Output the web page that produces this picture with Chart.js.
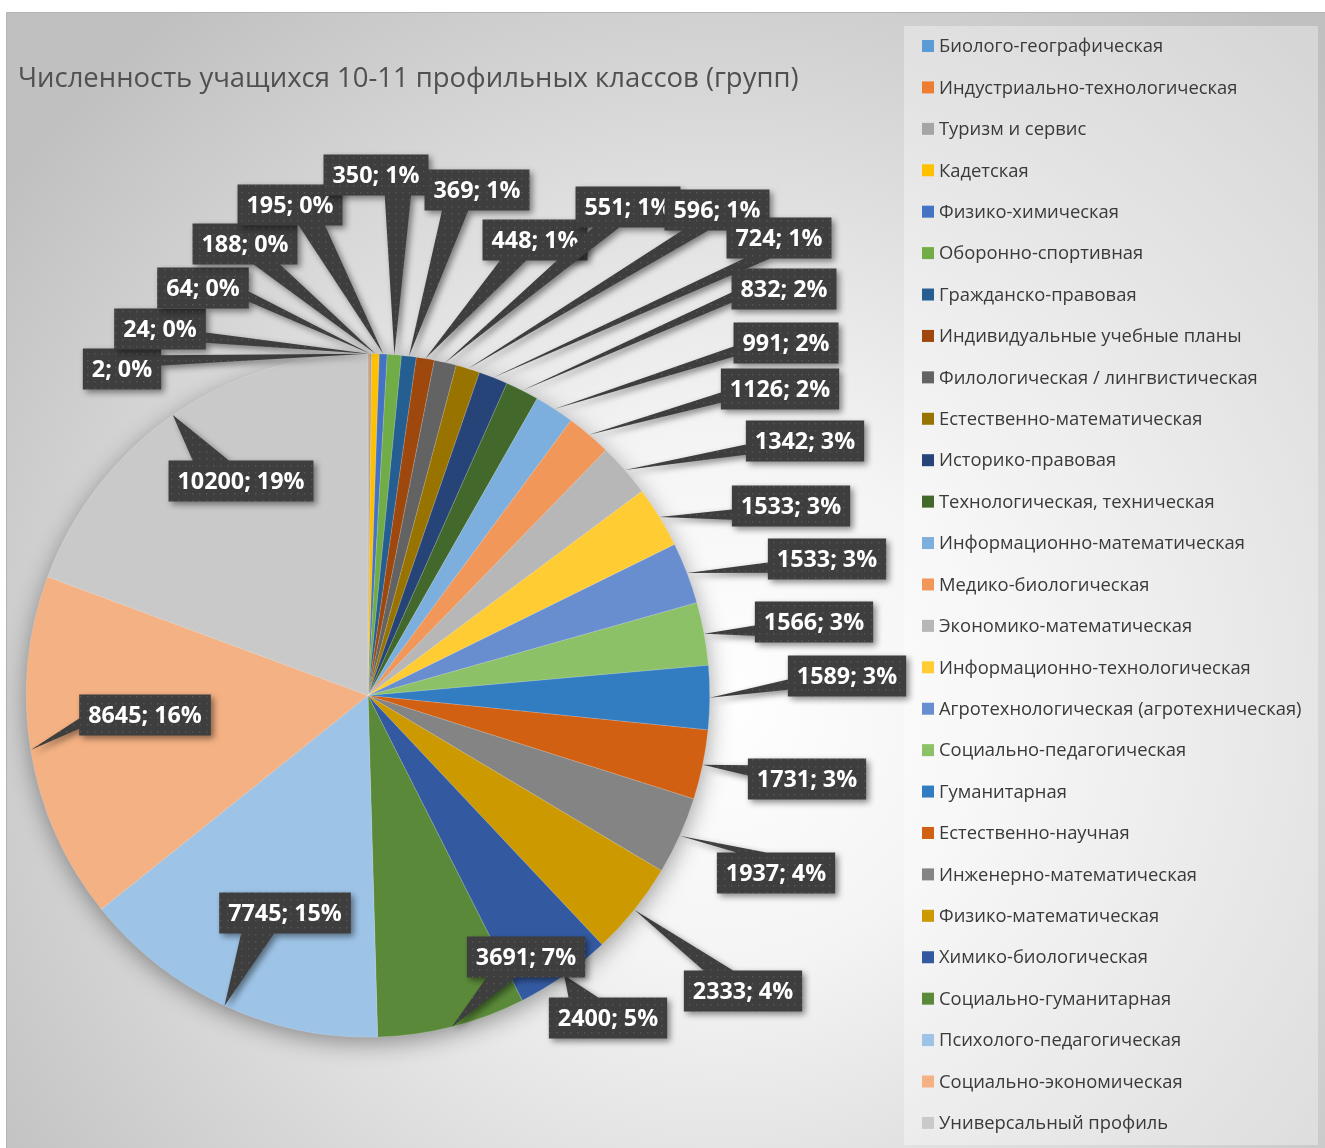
<!DOCTYPE html>
<html lang="ru">
<head>
<meta charset="UTF-8">
<title>Численность учащихся 10-11 профильных классов</title>
<script src="https://cdn.jsdelivr.net/npm/chart.js@4.4.0/dist/chart.umd.min.js"></script>
<style>
  html, body { margin: 0; padding: 0; background: #ffffff; }
  canvas { display: block; }
</style>
</head>
<body>
<canvas id="pie" width="1325" height="1148"></canvas>
<script>
// profiles, in legend order (slices go clockwise from 12 o'clock)
const profiles = [
  'Биолого-географическая', 'Индустриально-технологическая', 'Туризм и сервис',
  'Кадетская', 'Физико-химическая', 'Оборонно-спортивная', 'Гражданско-правовая',
  'Индивидуальные учебные планы', 'Филологическая / лингвистическая',
  'Естественно-математическая', 'Историко-правовая', 'Технологическая, техническая',
  'Информационно-математическая', 'Медико-биологическая', 'Экономико-математическая',
  'Информационно-технологическая', 'Агротехнологическая (агротехническая)',
  'Социально-педагогическая', 'Гуманитарная', 'Естественно-научная',
  'Инженерно-математическая', 'Физико-математическая', 'Химико-биологическая',
  'Социально-гуманитарная', 'Психолого-педагогическая', 'Социально-экономическая',
  'Универсальный профиль'
];
const students = [2, 24, 64, 188, 195, 350, 369, 448, 551, 596, 724, 832, 991, 1126,
  1342, 1533, 1533, 1566, 1589, 1731, 1937, 2333, 2400, 3691, 7745, 8645, 10200];

const sliceColors = [
  '#5B9BD5', '#ED7D31', '#A5A5A5', '#FFC000', '#4472C4', '#70AD47',
  '#255E91', '#9E480E', '#636363', '#997300', '#264478', '#43682B',
  '#7CAFDD', '#F1975A', '#B7B7B7', '#FFCD33', '#698ED0', '#8CC168',
  '#327DC2', '#D26012', '#848484', '#CC9A00', '#335AA1', '#5A8A39',
  '#9DC3E6', '#F4B183', '#C9C9C9'
];

// where each data callout box sits (box centre, px)
const calloutCenters = [
  [122, 369], [160, 329], [203, 288], [245, 244], [290, 205], [376, 175], [477, 190],
  [535, 240], [628, 207], [717, 210], [779, 238], [784, 289], [786, 343], [780, 389],
  [805, 441], [791, 506], [827, 559], [814, 622], [847, 676], [807, 779], [776, 873],
  [743, 991], [608, 1018], [526, 957], [285, 913], [145, 715], [241, 481]
];

const titleText = 'Численность учащихся 10-11 профильных классов (групп)';
const FONT = '"Open Sans", "Noto Sans", sans-serif';

function fitSize(ctx, text, target, weight) {
  ctx.font = weight + ' 100px ' + FONT;
  return 100 * target / ctx.measureText(text).width;
}

// dotted fill used by the callouts
const patCanvas = document.createElement('canvas');
patCanvas.width = 7; patCanvas.height = 7;
(function () {
  const p = patCanvas.getContext('2d');
  p.fillStyle = '#3e3e3e';
  p.fillRect(0, 0, 7, 7);
  p.fillStyle = '#555555';
  p.fillRect(3, 3, 1.5, 1.5);
})();

function calloutPath(ctx, l, t, w, h, tx, ty) {
  const dx = tx - (l + w / 2), dy = ty - (t + h / 2);
  const dz = Math.abs(dy) - Math.abs(dx * h / w);
  const xl = l + w * (dx > 0 ? 7 : 2) / 12, xr = l + w * (dx > 0 ? 10 : 5) / 12;
  const yt = t + h * (dy > 0 ? 7 : 2) / 12, yb = t + h * (dy > 0 ? 10 : 5) / 12;
  ctx.beginPath();
  ctx.moveTo(l, t);
  if (dz > 0 && dy < 0) { ctx.lineTo(xl, t); ctx.lineTo(tx, ty); ctx.lineTo(xr, t); }
  ctx.lineTo(l + w, t);
  if (dz <= 0 && dx > 0) { ctx.lineTo(l + w, yt); ctx.lineTo(tx, ty); ctx.lineTo(l + w, yb); }
  ctx.lineTo(l + w, t + h);
  if (dz > 0 && dy > 0) { ctx.lineTo(xr, t + h); ctx.lineTo(tx, ty); ctx.lineTo(xl, t + h); }
  ctx.lineTo(l, t + h);
  if (dz <= 0 && dx < 0) { ctx.lineTo(l, yb); ctx.lineTo(tx, ty); ctx.lineTo(l, yt); }
  ctx.closePath();
}

const decor = {
  id: 'decor',
  beforeDraw(chart) {
    const ctx = chart.ctx;
    ctx.save();
    ctx.fillStyle = '#ffffff';
    ctx.fillRect(0, 0, chart.width, chart.height);
    const g = ctx.createRadialGradient(720, 700, 0, 720, 700, 880);
    g.addColorStop(0, '#ffffff');
    g.addColorStop(0.3, '#f4f4f4');
    g.addColorStop(1, '#c0c0c0');
    ctx.fillStyle = g;
    ctx.fillRect(6, 12, chart.width - 6, chart.height - 12);
    ctx.strokeStyle = '#b4b4b4';
    ctx.lineWidth = 1;
    ctx.beginPath();
    ctx.moveTo(6.5, chart.height); ctx.lineTo(6.5, 12.5); ctx.lineTo(chart.width, 12.5);
    ctx.stroke();
    // legend panel
    ctx.fillStyle = 'rgba(255,255,255,0.35)';
    ctx.fillRect(904, 26, 414, 1119);
    ctx.restore();
  },
  beforeDatasetsDraw(chart) {
    const arc = chart.getDatasetMeta(0).data[0];
    if (!arc) return;
    const ctx = chart.ctx;
    ctx.save();
    ctx.shadowColor = 'rgba(0,0,0,0.4)';
    ctx.shadowBlur = 24;
    ctx.shadowOffsetY = 6;
    ctx.fillStyle = '#c9c9c9';
    ctx.beginPath();
    ctx.arc(arc.x, arc.y, arc.outerRadius - 1, 0, Math.PI * 2);
    ctx.fill();
    ctx.restore();
  },
  afterDatasetsDraw(chart) {
    const ctx = chart.ctx;
    const meta = chart.getDatasetMeta(0);
    const total = students.reduce((a, b) => a + b, 0);
    const size = fitSize(ctx, '10200; 19%', 127, 'bold');
    const pattern = ctx.createPattern(patCanvas, 'repeat');
    ctx.save();
    meta.data.forEach((arc, i) => {
      const mid = (arc.startAngle + arc.endAngle) / 2;
      const tx = arc.x + Math.cos(mid) * arc.outerRadius;
      const ty = arc.y + Math.sin(mid) * arc.outerRadius;
      const text = students[i] + '; ' + Math.round(students[i] / total * 100) + '%';
      ctx.font = 'bold ' + size + 'px ' + FONT;
      const w = ctx.measureText(text).width + 18, h = 41;
      const [cx, cy] = calloutCenters[i];
      const l = cx - w / 2, t = cy - h / 2;
      calloutPath(ctx, l, t, w, h, tx, ty);
      ctx.shadowColor = 'rgba(0,0,0,0.45)';
      ctx.shadowBlur = 6;
      ctx.shadowOffsetX = 3;
      ctx.shadowOffsetY = 3;
      ctx.fillStyle = pattern;
      ctx.fill();
      ctx.shadowColor = 'transparent';
      ctx.fillStyle = '#ffffff';
      ctx.textAlign = 'center';
      ctx.textBaseline = 'middle';
      ctx.fillText(text, cx, cy + 1);
    });
    ctx.restore();
  },
  afterDraw(chart) {
    const ctx = chart.ctx;
    ctx.save();
    // title
    const ts = fitSize(ctx, titleText, 781, 'normal');
    ctx.font = 'normal ' + ts + 'px ' + FONT;
    ctx.fillStyle = '#505050';
    ctx.textAlign = 'left';
    ctx.textBaseline = 'middle';
    ctx.fillText(titleText, 18, 79);
    // legend
    const ls = fitSize(ctx, 'Агротехнологическая (агротехническая)', 363, 'normal');
    ctx.font = 'normal ' + ls + 'px ' + FONT;
    profiles.forEach((name, i) => {
      const y = 46 + i * 41.42;
      ctx.fillStyle = sliceColors[i];
      ctx.fillRect(922, y - 6, 12, 12);
      ctx.fillStyle = '#3a3a3a';
      ctx.fillText(name, 939, y + 1);
    });
    ctx.restore();
  }
};

new Chart(document.getElementById('pie'), {
  type: 'pie',
  data: {
    labels: profiles,
    datasets: [{
      data: students,
      backgroundColor: sliceColors,
      borderColor: 'rgba(255,255,255,0.3)',
      borderWidth: 0.5
    }]
  },
  options: {
    responsive: false,
    animation: false,
    layout: { padding: { left: 26, right: 615, top: 353, bottom: 110 } },
    plugins: {
      legend: { display: false },
      title: { display: false },
      tooltip: { enabled: false }
    }
  },
  plugins: [decor]
});
</script>
</body>
</html>
